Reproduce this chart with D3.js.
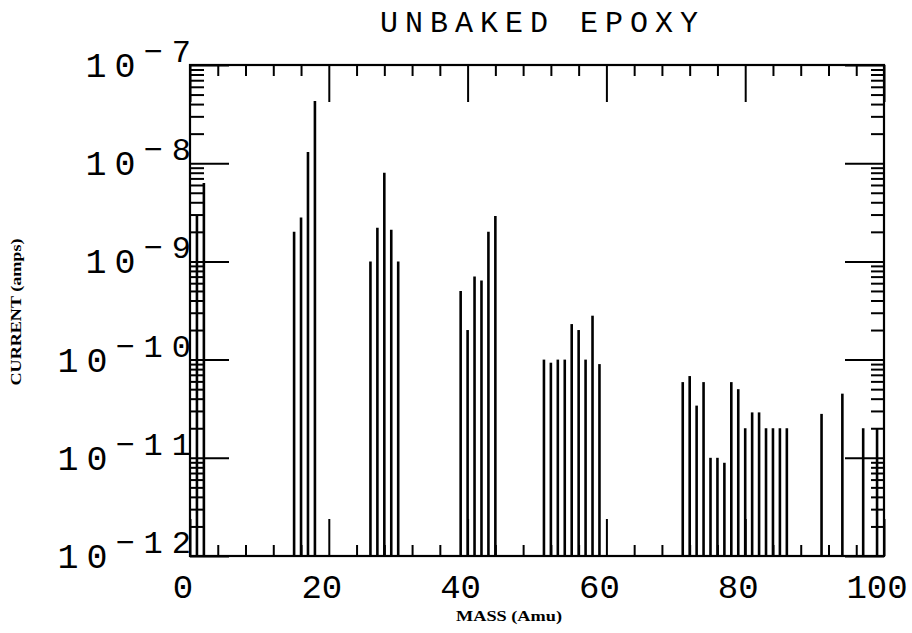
<!DOCTYPE html>
<html><head><meta charset="utf-8">
<script src="https://cdn.jsdelivr.net/npm/d3@7"></script>
<style>body{margin:0;background:#fff}svg{display:block}</style>
</head><body>
<svg id="c" width="912" height="633"></svg>
<script>
// ---- data ----
const masses   = [1, 2, 15, 16, 17, 18, 26, 27, 28, 29, 30, 39, 40, 41, 42, 43, 44,
                  51, 52, 53, 54, 55, 56, 57, 58, 59,
                  71, 72, 73, 74, 75, 76, 77, 78, 79, 80, 81, 82, 83, 84, 85, 86,
                  91, 94, 97, 99];
const currents = [2.9e-9, 6.3e-9, 2.0e-9, 2.8e-9, 1.3e-8, 4.3e-8,
                  1.0e-9, 2.2e-9, 8.0e-9, 2.1e-9, 1.0e-9,
                  5.0e-10, 2.0e-10, 7.0e-10, 6.4e-10, 2.0e-9, 2.9e-9,
                  1.0e-10, 9.3e-11, 1.0e-10, 1.0e-10, 2.3e-10, 2.0e-10, 1.0e-10, 2.8e-10, 9.0e-11,
                  5.9e-11, 6.8e-11, 3.4e-11, 5.9e-11, 1.0e-11, 1.0e-11, 8.9e-12, 5.9e-11, 5.0e-11,
                  2.0e-11, 2.9e-11, 2.9e-11, 2.0e-11, 2.0e-11, 2.0e-11, 2.0e-11,
                  2.8e-11, 4.5e-11, 2.0e-11, 2.0e-11];
const xMajorTicks = [0, 20, 40, 60, 80, 100];
const xTickLabels = ["0", "20", "40", "60", "80", "100"];
const xMinorTicks = [4, 8, 12, 16, 24, 28, 32, 36, 44, 48, 52, 56, 64, 68, 72, 76, 84, 88, 92, 96];
const yExponents  = [-7, -8, -9, -10, -11, -12];
const title  = "UNBAKED EPOXY";
const xTitle = "MASS (Amu)";
const yTitle = "CURRENT (amps)";

// ---- layout ----
const L = 190, R = 884, T = 65, B = 556;
const svg = d3.select("#c");
const x = d3.scaleLinear().domain([0, 100]).range([L, R]);
const y = d3.scaleLog().domain([1e-12, 1e-7]).range([B, T]);
const decades = yExponents.map(e => Math.pow(10, e));
const yMinor = y.ticks().filter(v => Math.abs(Math.log10(v) - Math.round(Math.log10(v))) > 1e-6);

function style(g) {
  g.select(".domain").remove();
  g.selectAll(".tick line").attr("stroke", "#000").attr("stroke-width", 2);
  g.selectAll(".tick text").remove();
}

// bars
svg.append("g").selectAll("line").data(masses).join("line")
  .attr("x1", (d) => x(d)).attr("x2", (d) => x(d))
  .attr("y1", y(1e-12)).attr("y2", (d, i) => y(currents[i]))
  .attr("stroke", "#000").attr("stroke-width", 2.6);

// x ticks (bottom & top)
svg.append("g").attr("transform", `translate(0,${B})`)
  .call(d3.axisBottom(x).tickValues(xMajorTicks).tickSize(-37)).call(style);
svg.append("g").attr("transform", `translate(0,${B})`)
  .call(d3.axisBottom(x).tickValues(xMinorTicks).tickSize(-11)).call(style);
svg.append("g").attr("transform", `translate(0,${T})`)
  .call(d3.axisTop(x).tickValues(xMajorTicks).tickSize(-37)).call(style);
svg.append("g").attr("transform", `translate(0,${T})`)
  .call(d3.axisTop(x).tickValues(xMinorTicks).tickSize(-11)).call(style);

// y ticks (left & right)
svg.append("g").attr("transform", `translate(${L},0)`)
  .call(d3.axisLeft(y).tickValues(decades).tickSize(-39)).call(style);
svg.append("g").attr("transform", `translate(${L},0)`)
  .call(d3.axisLeft(y).tickValues(yMinor).tickSize(-14)).call(style);
svg.append("g").attr("transform", `translate(${R},0)`)
  .call(d3.axisRight(y).tickValues(decades).tickSize(-39)).call(style);
svg.append("g").attr("transform", `translate(${R},0)`)
  .call(d3.axisRight(y).tickValues(yMinor).tickSize(-13)).call(style);

// frame
svg.append("rect").attr("x", L).attr("y", T).attr("width", R - L).attr("height", B - T)
  .attr("fill", "none").attr("stroke", "#000").attr("stroke-width", 2.2);

const mono = "Liberation Mono, Courier New, monospace";

// x tick labels
svg.append("g").selectAll("text").data(xMajorTicks).join("text")
  .attr("x", (d) => x(d) - 7).attr("y", 598)
  .attr("text-anchor", "middle")
  .attr("font-family", mono).attr("font-size", 34)
  .text((d, i) => xTickLabels[i]);

// y tick labels with superscripts
const yl = svg.append("g").selectAll("text").data(yExponents).join("text")
  .attr("x", L + 10).attr("y", (d) => y(Math.pow(10, d)) + 12)
  .attr("text-anchor", "end")
  .attr("font-family", mono).attr("font-size", 35);
yl.append("tspan").attr("letter-spacing", 8).text("10");
yl.append("tspan").attr("dy", -15).attr("font-size", 32).attr("letter-spacing", 9)
  .text((d) => "\u2212" + Math.abs(d));

// title
svg.append("text").attr("x", 539).attr("y", 32).attr("text-anchor", "middle")
  .attr("font-family", mono).attr("font-size", 30)
  .attr("textLength", 318).attr("lengthAdjust", "spacing")
  .text(title);

// axis titles
svg.append("text").attr("x", 509).attr("y", 621).attr("text-anchor", "middle")
  .attr("font-family", "Liberation Serif, serif").attr("font-weight", "bold").attr("font-size", 15)
  .attr("textLength", 106).attr("lengthAdjust", "spacingAndGlyphs")
  .text(xTitle);
svg.append("text").attr("transform", "translate(21,312) rotate(-90)").attr("text-anchor", "middle")
  .attr("font-family", "Liberation Serif, serif").attr("font-weight", "bold").attr("font-size", 15)
  .attr("textLength", 147).attr("lengthAdjust", "spacingAndGlyphs")
  .text(yTitle);
</script>
</body></html>
